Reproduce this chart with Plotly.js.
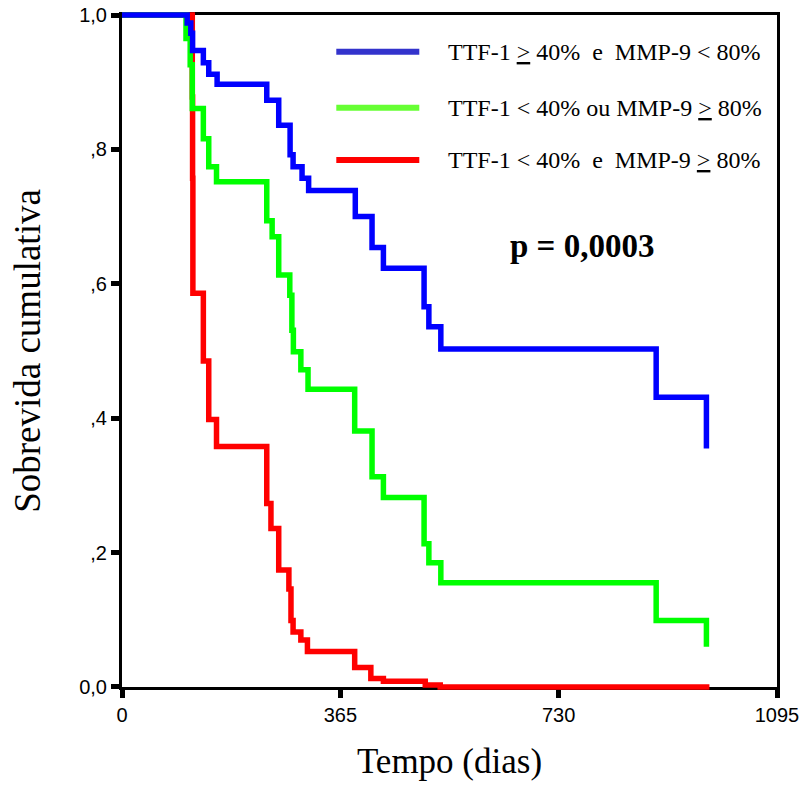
<!DOCTYPE html>
<html>
<head>
<meta charset="utf-8">
<script src="https://cdn.plot.ly/plotly-3.0.1.min.js"></script>
<style>html,body{margin:0;padding:0;background:#fff;}#chart{width:804px;height:793px;}</style>
</head>
<body>
<div id="chart"></div>
<script>
// ---- data ----
const blueDays = [0, 109, 115, 118, 136, 145, 159, 242, 262, 281, 286, 301, 312, 390, 418, 437, 505, 513, 533, 893, 977];
const blueSurv = [1, 0.988, 0.973, 0.947, 0.929, 0.912, 0.897, 0.873, 0.836, 0.792, 0.774, 0.757, 0.739, 0.700, 0.654, 0.623, 0.566, 0.536, 0.503, 0.431, 0.355];

const greenDays = [0, 107, 114, 117.5, 136, 145, 158, 242, 251, 262, 280.5, 284, 286.5, 299, 311, 389, 418, 437, 505, 513, 533, 893, 977];
const greenSurv = [1, 0.965, 0.926, 0.861, 0.816, 0.774, 0.752, 0.694, 0.670, 0.613, 0.583, 0.531, 0.499, 0.472, 0.443, 0.381, 0.313, 0.282, 0.213, 0.185, 0.155, 0.099, 0.060];

const redDays = [0, 117.5, 118, 118.5, 136, 145, 158, 242, 249, 262, 279, 282.5, 286, 299, 310, 389, 416, 437, 507, 532, 982];
const redSurv = [1, 0.878, 0.757, 0.586, 0.485, 0.398, 0.358, 0.273, 0.236, 0.174, 0.146, 0.099, 0.082, 0.070, 0.053, 0.029, 0.0125, 0.0085, 0.003, 0, 0];

const seriesNames = [
  'TTF-1 <u>&gt;</u> 40%  e  MMP-9 &lt; 80%',
  'TTF-1 &lt; 40% ou MMP-9 <u>&gt;</u> 80%',
  'TTF-1 &lt; 40%  e  MMP-9 <u>&gt;</u> 80%'
];
const xTickVals = [0, 365, 730, 1095];
const xTickText = ['0', '365', '730', '1095'];
const yTickVals = [0, 0.2, 0.4, 0.6, 0.8, 1.0];
const yTickText = ['0,0', ',2', ',4', ',6', ',8', '1,0'];
const pText = '<b>p = 0,0003</b>';

// ---- layout geometry (pixels) ----
const W = 804, H = 793;
const L = 121.7, R = 776.7, T = 15, B = 686.7;   // plot frame
const P = 12;                                      // padding for unclipped lines
const XMAX = 1095;
const sx = (R - L) / XMAX, sy = (B - T);
const ml = L - P, mr = W - R - P, mt = T - P, mb = H - B - P;
const pw = W - ml - mr, ph = H - mt - mb;
function dx(px) { return (px - L) / sx; }
function dy(py) { return 1 - (py - T) / sy; }

const curveColors = ['#0000FF', '#00FF00', '#FF0000'];
const legendColors = ['#3333CC', '#66FF33', '#FF0000'];
const serif = 'Liberation Serif, Times New Roman, serif';
const sans = 'Liberation Sans, Arial, sans-serif';

function curve(xs, ys, color, name) {
  return {
    x: xs, y: ys, type: 'scatter', mode: 'lines', name: name,
    line: {shape: 'hv', color: color, width: 5.5},
    xaxis: 'x2', yaxis: 'y2', hoverinfo: 'skip', showlegend: false
  };
}
// draw order: red, green, blue (blue on top)
const traces = [
  curve(redDays, redSurv, curveColors[2], seriesNames[2]),
  curve(greenDays, greenSurv, curveColors[1], seriesNames[1]),
  curve(blueDays, blueSurv, curveColors[0], seriesNames[0])
];

const legY = [51.7, 107.7, 160];
const shapes = [], annotations = [];
for (let i = 0; i < 3; i++) {
  shapes.push({type: 'line', xref: 'x', yref: 'y',
    x0: dx(336), x1: dx(419), y0: dy(legY[i]), y1: dy(legY[i]),
    line: {color: legendColors[i], width: 6}});
  annotations.push({xref: 'x', yref: 'y', x: dx(446), y: dy(legY[i]),
    xanchor: 'left', yanchor: 'middle', showarrow: false,
    text: seriesNames[i], font: {family: serif, size: 24, color: '#000'}});
}
annotations.push({xref: 'x', yref: 'y', x: dx(582), y: dy(246),
  xanchor: 'center', yanchor: 'middle', showarrow: false,
  text: pText, font: {family: serif, size: 33, color: '#000'}});

const layout = {
  width: W, height: H,
  margin: {l: ml, r: mr, t: mt, b: mb, pad: 0},
  paper_bgcolor: '#fff', plot_bgcolor: 'rgba(0,0,0,0)',
  showlegend: false,
  xaxis: {
    domain: [P / pw, 1 - P / pw], range: [0, XMAX], anchor: 'y',
    showgrid: false, zeroline: false, showline: true, mirror: true,
    linecolor: '#000', linewidth: 3,
    ticks: 'outside', ticklen: 8, tickwidth: 5, tickcolor: '#000',
    tickvals: xTickVals, ticktext: xTickText,
    tickfont: {family: sans, size: 20, color: '#000'},
    title: {text: 'Tempo (dias)', font: {family: serif, size: 35, color: '#000'}, standoff: 24},
    fixedrange: true
  },
  yaxis: {
    domain: [P / ph, 1 - P / ph], range: [0, 1], anchor: 'x',
    showgrid: false, zeroline: false, showline: true, mirror: true,
    linecolor: '#000', linewidth: 3,
    ticks: 'outside', ticklen: 8, tickwidth: 5, tickcolor: '#000',
    tickvals: yTickVals, ticktext: yTickText,
    tickfont: {family: sans, size: 20, color: '#000'},
    title: {text: 'Sobrevida cumulativa', font: {family: serif, size: 37, color: '#000'}, standoff: 28},
    fixedrange: true
  },
  xaxis2: {
    domain: [0, 1], range: [-P / sx, XMAX + P / sx], anchor: 'y2',
    visible: false, fixedrange: true
  },
  yaxis2: {
    domain: [0, 1], range: [-P / sy, 1 + P / sy], anchor: 'x2',
    visible: false, fixedrange: true
  },
  shapes: shapes,
  annotations: annotations
};

Plotly.newPlot('chart', traces, layout, {staticPlot: true, displayModeBar: false});
</script>
</body>
</html>
